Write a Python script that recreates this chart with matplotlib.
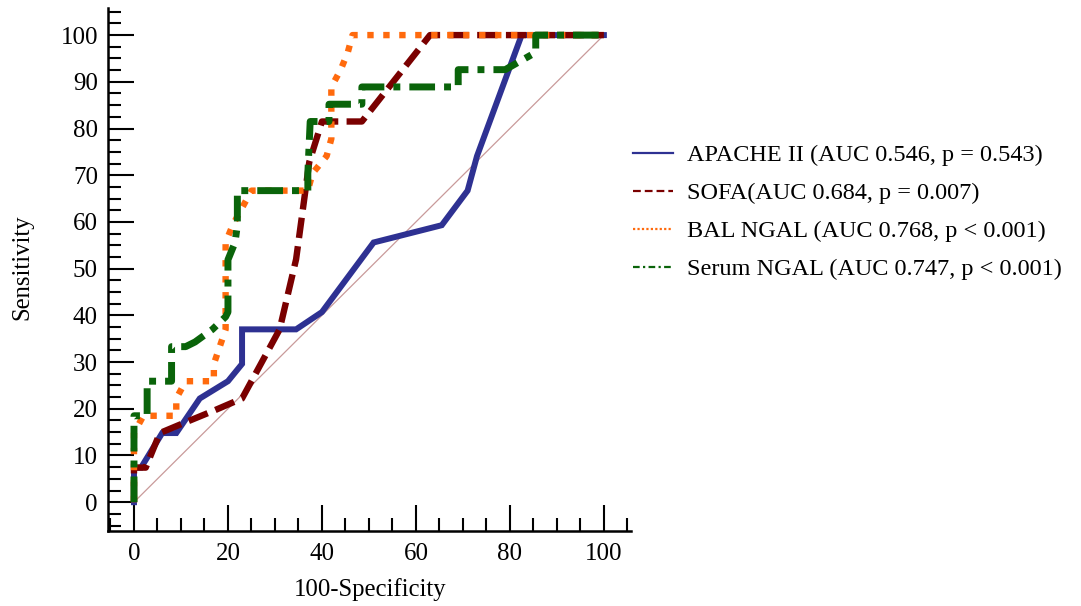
import matplotlib
matplotlib.use("Agg")
import matplotlib.pyplot as plt
from matplotlib.lines import Line2D
from matplotlib.ticker import MultipleLocator

# ---- data ----
apache_x = [0, 0, 1.5, 6, 9, 14, 20, 23, 23, 34.5, 40, 51, 65.5, 71, 73, 82.5, 100]
apache_y = [0, 7.4, 7.4, 14.8, 14.8, 22.2, 25.9, 29.6, 37.0, 37.0, 40.7, 55.6, 59.3, 66.7, 74.1, 100, 100]

sofa_x = [0, 0, 2.5, 5.5, 10, 17, 23, 31, 34.5, 37.3, 40, 48.5, 63, 100]
sofa_y = [0, 7.4, 7.4, 14.8, 16.7, 19.6, 22.2, 37.0, 52.0, 72.8, 81.5, 81.5, 100, 100]

bal_x = [0, 0, 2, 9, 9, 11, 17, 17, 19.5, 19.5, 21, 25, 37, 38, 41, 42, 42, 44, 45.5, 46.5, 100]
bal_y = [0, 14.8, 18.5, 18.5, 22.2, 25.9, 25.9, 29.6, 37.0, 55.6, 59.3, 66.7, 66.7, 70.4, 74.1, 77.8, 88.9, 92.6, 96.3, 100, 100]

serum_x = [0, 0, 2.8, 2.8, 8, 8, 11, 13, 16.7, 19.5, 20, 20, 21.5, 22, 22, 37, 37, 37.5, 41.5, 41.5, 48.5, 48.5, 69, 69, 79, 85.5, 85.5, 100]
serum_y = [0, 18.5, 18.5, 25.9, 25.9, 33.3, 33.3, 34.3, 37.0, 39.7, 40.7, 51.9, 55.6, 59.3, 66.7, 66.7, 70.4, 81.5, 81.5, 85.2, 85.2, 88.9, 88.9, 92.6, 92.6, 96.3, 100, 100]

ref_x = [0, 100]
ref_y = [0, 100]

labels = [
    "APACHE II (AUC 0.546, p = 0.543)",
    "SOFA(AUC 0.684, p = 0.007)",
    "BAL NGAL (AUC 0.768, p < 0.001)",
    "Serum NGAL (AUC 0.747, p < 0.001)",
]
colors = ["#2e3192", "#7a0000", "#ff6a0d", "#0a640a"]

xticks = [0, 20, 40, 60, 80, 100]
yticks = [0, 10, 20, 30, 40, 50, 60, 70, 80, 90, 100]

plt.rcParams["font.family"] = ["Liberation Serif", "DejaVu Serif"]

fig = plt.figure(figsize=(10.81, 6.06), dpi=100)
ax = fig.add_axes([0.0996, 0.1243, 0.4838, 0.8625])

ax.plot(ref_x, ref_y, color="#c99a9a", lw=0.9, zorder=1)
ax.plot(apache_x, apache_y, color=colors[0], lw=4.3, solid_joinstyle="miter", zorder=2)
ax.plot(sofa_x, sofa_y, color=colors[1], lw=4.6, linestyle=(0, (3.2, 1.3)),
        dash_capstyle="butt", zorder=3)
ax.plot(bal_x, bal_y, color=colors[2], lw=4.6, linestyle=(0, (1.0, 1.5)),
        dash_capstyle="butt", zorder=4)
ax.plot(serum_x, serum_y, color=colors[3], lw=5.0, linestyle=(0, (3.7, 1.3, 1.0, 1.3)),
        dash_capstyle="butt", zorder=5)

ax.set_xlim(-5.6, 105.7)
ax.set_ylim(-6.1, 105.8)
ax.set_xticks(xticks)
ax.set_yticks(yticks)
ax.xaxis.set_minor_locator(MultipleLocator(5))
ax.yaxis.set_minor_locator(MultipleLocator(2.5))

for s in ["top", "right"]:
    ax.spines[s].set_visible(False)
for s in ["left", "bottom"]:
    ax.spines[s].set_linewidth(1.8)

ax.tick_params(which="major", direction="in", length=18.5, width=1.5, labelsize=18)
ax.tick_params(which="minor", direction="in", length=9.3, width=1.5)
ax.tick_params(axis="y", which="major", pad=7)
ax.tick_params(axis="x", which="major", pad=9)

ax.set_xlabel("100-Specificity", fontsize=17.8)
ax.set_ylabel("Sensitivity", fontsize=17.8)
ax.xaxis.set_label_coords(0.501, -0.113)
ax.xaxis.label.set_va("center")
ax.yaxis.set_label_coords(-0.164, 0.504)
ax.yaxis.label.set_va("center")

handles = [
    Line2D([0], [0], color=colors[0], lw=1.6, linestyle="-"),
    Line2D([0], [0], color=colors[1], lw=1.6, linestyle=(0, (3.5, 1.8))),
    Line2D([0], [0], color=colors[2], lw=1.6, linestyle=(0, (1, 1))),
    Line2D([0], [0], color=colors[3], lw=1.6, linestyle=(0, (3, 1.5, 1, 1.5))),
]
fig.legend(handles, labels, loc="center left", bbox_to_anchor=(0.5856, 0.650),
           frameon=False, fontsize=17.5, handlelength=1.65, handletextpad=0.58,
           labelspacing=0.66, borderpad=0, borderaxespad=0)

fig.savefig("out.png", dpi=100)
